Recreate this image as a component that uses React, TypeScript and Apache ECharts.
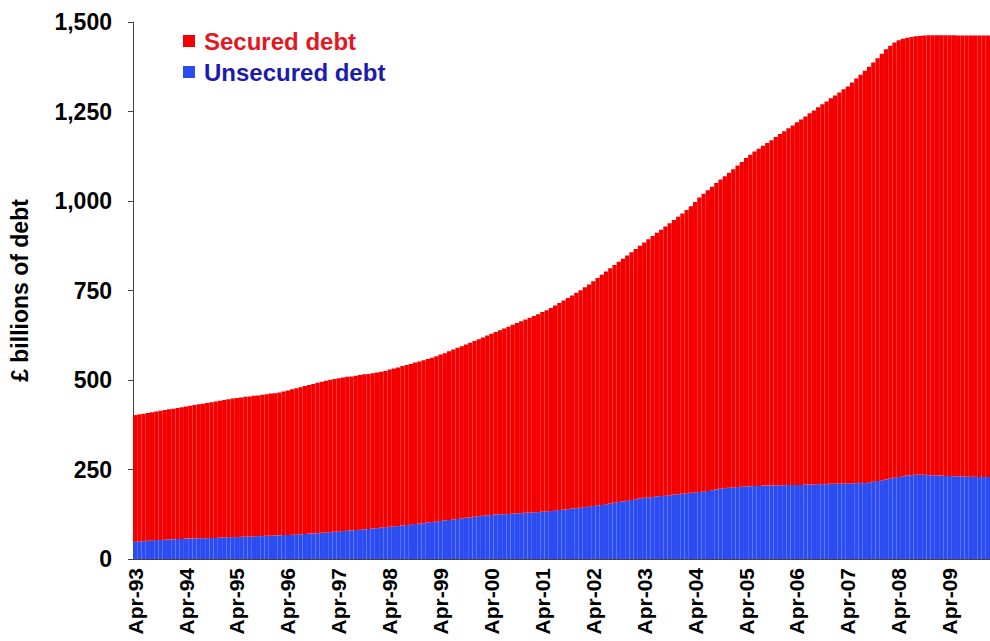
import React, { useEffect, useRef } from "react";
import * as echarts from "echarts";

const MONTHS = ["Jan", "Feb", "Mar", "Apr", "May", "Jun", "Jul", "Aug", "Sep", "Oct", "Nov", "Dec"];
const START_YEAR = 1993;
const START_MONTH = 3; // April
const MONTH_COUNT = 202; // Apr-93 .. Jan-10

// Total household debt (top of red), £ billions, monthly from Apr-93
const totalDebt = [
  402, 404, 406, 408, 410, 412, 414, 416, 418, 420, 422, 424,
  426, 428, 430, 432, 434, 436, 438, 440, 442, 444, 446, 448,
  450, 451, 453, 454, 456, 457, 459, 460, 462, 463, 465, 468,
  471, 474, 477, 480, 483, 486, 489, 492, 495, 498, 501, 503,
  505, 507, 509, 510, 512, 514, 516, 517, 519, 521, 523, 525,
  529, 532, 535, 539, 542, 545, 549, 552, 555, 559, 562, 566,
  571, 575, 580, 585, 590, 594, 599, 604, 609, 614, 619, 624,
  629, 634, 639, 644, 649, 654, 659, 664, 669, 674, 679, 684,
  690, 695, 701, 708, 715, 722, 729, 736, 744, 751, 759, 767,
  776, 785, 794, 803, 812, 821, 830, 839, 848, 857, 866, 875,
  884, 893, 902, 911, 920, 929, 938, 947, 956, 965, 975, 985,
  997, 1010, 1020, 1030, 1040, 1050, 1060, 1069, 1079, 1089, 1099, 1109,
  1120, 1129, 1138, 1146, 1154, 1162, 1170, 1179, 1187, 1195, 1203, 1211,
  1220, 1228, 1236, 1245, 1253, 1262, 1270, 1278, 1287, 1295, 1303, 1312,
  1320, 1331, 1342, 1353, 1364, 1375, 1387, 1399, 1411, 1424, 1434, 1443,
  1449, 1453, 1456, 1458, 1460, 1461, 1462, 1463, 1463, 1463, 1463, 1463,
  1463, 1463, 1462, 1462, 1462, 1462, 1462, 1462, 1462, 1462,
];

// Unsecured debt (top of blue), £ billions
const unsecuredDebt = [
  48, 49, 50, 51, 52, 53, 53, 54, 55, 55, 56, 56,
  57, 57, 57, 58, 58, 58, 59, 59, 60, 60, 61, 61,
  61, 62, 62, 63, 63, 64, 64, 65, 65, 66, 66, 67,
  67, 68, 68, 69, 70, 71, 71, 72, 73, 74, 75, 76,
  77, 78, 79, 80, 81, 82, 83, 84, 85, 86, 88, 89,
  90, 91, 92, 94, 95, 96, 98, 99, 100, 102, 103, 105,
  106, 108, 109, 111, 112, 113, 115, 116, 118, 119, 121, 122,
  123, 124, 125, 125, 126, 127, 127, 128, 129, 130, 130, 131,
  132, 133, 134, 135, 137, 138, 139, 141, 142, 143, 145, 146,
  148, 150, 151, 153, 155, 157, 159, 161, 163, 165, 167, 169,
  171, 172, 173, 175, 176, 177, 178, 180, 181, 182, 183, 185,
  186, 187, 188, 190, 192, 194, 196, 198, 199, 200, 201, 202,
  203, 203, 204, 204, 205, 205, 205, 206, 206, 206, 207, 207,
  207, 207, 208, 208, 208, 209, 209, 209, 210, 210, 210, 211,
  211, 211, 212, 212, 212, 214, 216, 218, 220, 222, 225, 227,
  229, 231, 233, 234, 235, 235, 235, 234, 234, 233, 233, 232,
  232, 231, 231, 231, 230, 230, 230, 229, 229, 229,
];

const Y_TICKS = [0, 250, 500, 750, 1000, 1250, 1500];

const categories: string[] = [];
for (let i = 0; i < MONTH_COUNT; i++) {
  const m = (START_MONTH + i) % 12;
  const y = START_YEAR + Math.floor((START_MONTH + i) / 12);
  categories.push(`${MONTHS[m]}-${String(y % 100).padStart(2, "0")}`);
}

const securedDebt = totalDebt.map((t, i) => t - unsecuredDebt[i]);

const FONT = "Arial, 'Liberation Sans', Helvetica, sans-serif";

export default function App() {
  const ref = useRef<HTMLDivElement>(null);
  useEffect(() => {
    if (!ref.current) return;
    const chart = echarts.init(ref.current, null, { renderer: "svg" });
    chart.setOption({
      animation: false,
      backgroundColor: "#ffffff",
      grid: { left: 132, right: 0, top: 22, bottom: 82, containLabel: false },
      legend: {
        orient: "vertical",
        left: 178,
        top: 24,
        icon: "rect",
        itemWidth: 12,
        itemHeight: 12,
        itemGap: 7,
        selectedMode: false,
        textStyle: { fontFamily: FONT, fontWeight: "bold", fontSize: 24, padding: [0, 0, 0, 4] },
        data: [
          { name: "Secured debt", textStyle: { color: "#E5161E" } },
          { name: "Unsecured debt", textStyle: { color: "#1B1BB0" } },
        ],
      },
      xAxis: {
        type: "category",
        data: categories,
        boundaryGap: true,
        axisLine: { lineStyle: { color: "#444", width: 1 } },
        axisTick: { interval: 11, length: 5, lineStyle: { color: "#444" } },
        axisLabel: {
          interval: 11,
          rotate: 90,
          margin: 9,
          color: "#000",
          fontFamily: FONT,
          fontWeight: "bold",
          fontSize: 21,
        },
      },
      yAxis: {
        type: "value",
        min: Y_TICKS[0],
        max: Y_TICKS[Y_TICKS.length - 1],
        interval: 250,
        name: "£ billions of debt",
        nameLocation: "middle",
        nameGap: 102,
        nameRotate: 90,
        nameTextStyle: { fontFamily: FONT, fontWeight: "bold", fontSize: 23, color: "#000" },
        axisLine: { show: true, lineStyle: { color: "#444", width: 1 } },
        axisTick: { show: true, length: 5, lineStyle: { color: "#444" } },
        splitLine: { show: false },
        axisLabel: {
          margin: 21,
          color: "#000",
          fontFamily: FONT,
          fontWeight: "bold",
          fontSize: 23,
          formatter: (v: number) => v.toLocaleString("en-US"),
        },
      },
      series: [
        {
          name: "Unsecured debt",
          type: "bar",
          stack: "debt",
          data: unsecuredDebt,
          barCategoryGap: "0%",
          itemStyle: { color: "#2B4CF0" },
        },
        {
          name: "Secured debt",
          type: "bar",
          stack: "debt",
          data: securedDebt,
          barCategoryGap: "0%",
          itemStyle: { color: "#F50000" },
        },
      ],
    });
    return () => chart.dispose();
  }, []);
  return <div ref={ref} style={{ width: 990, height: 641, position: "absolute", left: 0, top: 0 }} />;
}
